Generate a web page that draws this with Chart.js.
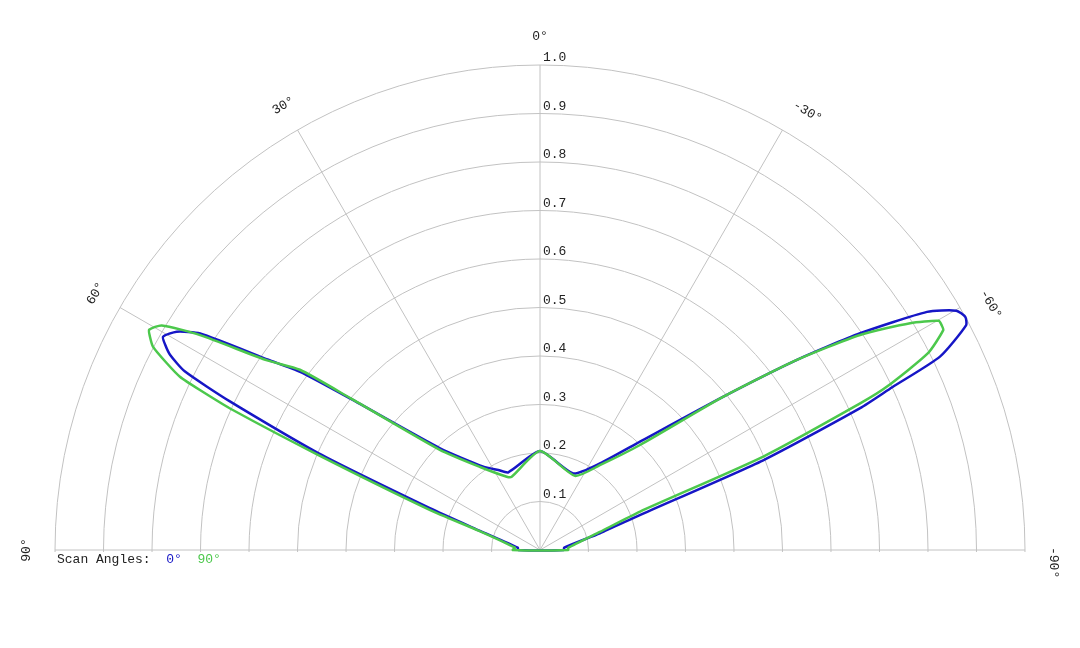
<!DOCTYPE html>
<html>
<head>
<meta charset="utf-8">
<title>Scan angle polar plot</title>
<script src="https://cdn.jsdelivr.net/npm/chart.js@4.4.1/dist/chart.umd.min.js"></script>
<style>
  html, body { margin: 0; padding: 0; background: #fff; overflow: hidden; }
  /* the dial is a full circle to Chart.js; only its upper half falls inside the window */
  #wrap { position: relative; width: 1080px; height: 1035px; }
</style>
</head>
<body>
<div id="wrap"><canvas id="polarChart"></canvas></div>
<script>
// Angles in degrees: 0 points straight up, positive angles go to the left.
// Values, radius 0..1.
const angles0 = [-90, -84.5, -74.4, -70.7, -68.1, -66.1, -65.2, -64.2, -62.2, -61.3, -60.1, -58.4, -55.9, -53.5, -50.1, -42.7, -34.7, -23.5,
                 0, 22.2, 27.5, 34.2, 44.5, 51.4, 53.4, 55.0, 57.5, 59.0, 60.5, 61.3, 62.2, 63.3, 64.4, 66.4, 69.2, 72.3, 84.1, 90];
const values0 = [0.049, 0.050, 0.128, 0.218, 0.496, 0.722, 0.800, 0.916, 0.993, 1.000, 0.990, 0.937, 0.797, 0.659, 0.493, 0.304, 0.217, 0.172,
                 0.204, 0.173, 0.186, 0.208, 0.294, 0.500, 0.616, 0.684, 0.831, 0.874, 0.893, 0.881, 0.862, 0.820, 0.709, 0.499, 0.243, 0.130, 0.046, 0.045];

const angles90 = [-90, -85.9, -73.2, -69.0, -67.3, -65.4, -64.8, -63.1, -61.4, -60.8, -60.1, -58.5, -56.1, -53.5, -50.1, -43.6, -35.2, -25.2,
                  0, 21.1, 24.4, 35.8, 45.0, 51.3, 53.1, 55.2, 57.7, 59.3, 60.6, 61.3, 62.3, 63.4, 64.3, 64.8, 65.5, 66.8, 70.0, 72.5, 84.7, 90];
const values90 = [0.058, 0.058, 0.129, 0.221, 0.499, 0.726, 0.790, 0.897, 0.947, 0.949, 0.948, 0.895, 0.795, 0.659, 0.493, 0.299, 0.214, 0.169,
                  0.204, 0.162, 0.166, 0.211, 0.292, 0.500, 0.619, 0.685, 0.829, 0.907, 0.925, 0.917, 0.901, 0.861, 0.824, 0.775, 0.696, 0.497, 0.241, 0.133, 0.052, 0.056];

const seriesNames = ['0°', '90°'];
const legendTitle = 'Scan Angles:';

const angleTicks = [90, 60, 30, 0, -30, -60, -90];
const angleTickLabels = ['90°', '60°', '30°', '0°', '-30°', '-60°', '-90°'];
const radialTicks = [0.1, 0.2, 0.3, 0.4, 0.5, 0.6, 0.7, 0.8, 0.9, 1.0];
const radialTickLabels = ['0.1', '0.2', '0.3', '0.4', '0.5', '0.6', '0.7', '0.8', '0.9', '1.0'];

const BLUE = '#1616c6';
const GREEN = '#4cc84c';
const GRID = '#c2c2c2';
const FONT = '13px "Liberation Mono", "Courier New", monospace';

// The radar scale spaces its labels evenly round the circle, so use one
// empty label per 0.1 degree and drop each reading into its slot.
const STEP = 0.1;
const SLOTS = Math.round(360 / STEP);

function slotOf(deg) {
    const cw = ((-deg % 360) + 360) % 360;   // radar slots run clockwise
    return Math.round(cw / STEP) % SLOTS;
}

function spread(angles, values) {
    const out = new Array(SLOTS).fill(null);
    angles.forEach((a, i) => { out[slotOf(a)] = values[i]; });
    return out;
}

const slotLabels = new Array(SLOTS).fill('');
const spokeSlots = angleTicks.map(slotOf);

// only the upper half of the dial is shown; text goes on afterwards
const halfDialPlugin = {
    id: 'halfDial',
    beforeDraw(chart) {
        const r = chart.scales.r;
        const ctx = chart.ctx;
        ctx.save();
        ctx.beginPath();
        ctx.rect(0, 0, chart.width, r.yCenter + 2);
        ctx.clip();
    },
    afterDraw(chart) {
        const ctx = chart.ctx;
        ctx.restore();

        const r = chart.scales.r;
        ctx.save();
        ctx.font = FONT;
        ctx.fillStyle = '#222';

        // radial values along the 0° spoke, just above each ring
        ctx.textAlign = 'left';
        ctx.textBaseline = 'middle';
        radialTicks.forEach((v, i) => {
            const d = r.getDistanceFromCenterForValue(v);
            ctx.fillText(radialTickLabels[i], r.xCenter + 3, r.yCenter - d - 7);
        });

        // angle labels round the rim, turned to follow it
        const labelDist = r.drawingArea * 1.058;
        angleTicks.forEach((a, i) => {
            const p = r.getPointPosition(slotOf(a), labelDist);
            ctx.save();
            ctx.translate(p.x, p.y);
            ctx.rotate(-a * Math.PI / 180);
            if (a < 0) {
                ctx.textAlign = 'left';
                ctx.fillText(angleTickLabels[i], -3, 0);
            } else {
                ctx.textAlign = 'center';
                ctx.fillText(angleTickLabels[i], 0, 0);
            }
            ctx.restore();
        });

        // legend under the left end of the baseline
        const lx = chart.chartArea.left + 2;
        const ly = r.yCenter + 10;
        ctx.textAlign = 'left';
        let x = lx;
        ctx.fillText(legendTitle, x, ly);
        x += ctx.measureText(legendTitle + '  ').width;
        chart.data.datasets.forEach((ds, i) => {
            ctx.fillStyle = ds.borderColor;
            ctx.fillText(seriesNames[i], x, ly);
            x += ctx.measureText(seriesNames[i] + '  ').width;
        });
        ctx.restore();
    }
};

const ctx = document.getElementById('polarChart');

new Chart(ctx, {
    type: 'radar',
    data: {
        labels: slotLabels,
        datasets: [
            {
                label: seriesNames[0],
                data: spread(angles0, values0),
                borderColor: BLUE,
                borderWidth: 2.5,
                pointRadius: 0,
                fill: false,
                tension: 0.2,
                spanGaps: true,
                order: 2
            },
            {
                label: seriesNames[1],
                data: spread(angles90, values90),
                borderColor: GREEN,
                borderWidth: 2.5,
                pointRadius: 0,
                fill: false,
                tension: 0.2,
                spanGaps: true,
                order: 1
            }
        ]
    },
    options: {
        responsive: true,
        maintainAspectRatio: false,
        animation: false,
        events: [],
        // centre lands at (540, 550) with a 485px radius
        layout: { padding: { left: 55, right: 55, top: 65, bottom: 0 } },
        plugins: {
            legend: { display: false },
            tooltip: { enabled: false }
        },
        scales: {
            r: {
                min: 0,
                max: 1,
                ticks: { stepSize: 0.1, display: false },
                grid: { circular: true, color: GRID, lineWidth: 1 },
                angleLines: {
                    color: GRID,
                    lineWidth: (c) => spokeSlots.includes(c.index) ? 1 : 0
                },
                pointLabels: { display: false }
            }
        }
    },
    plugins: [halfDialPlugin]
});
</script>
</body>
</html>
